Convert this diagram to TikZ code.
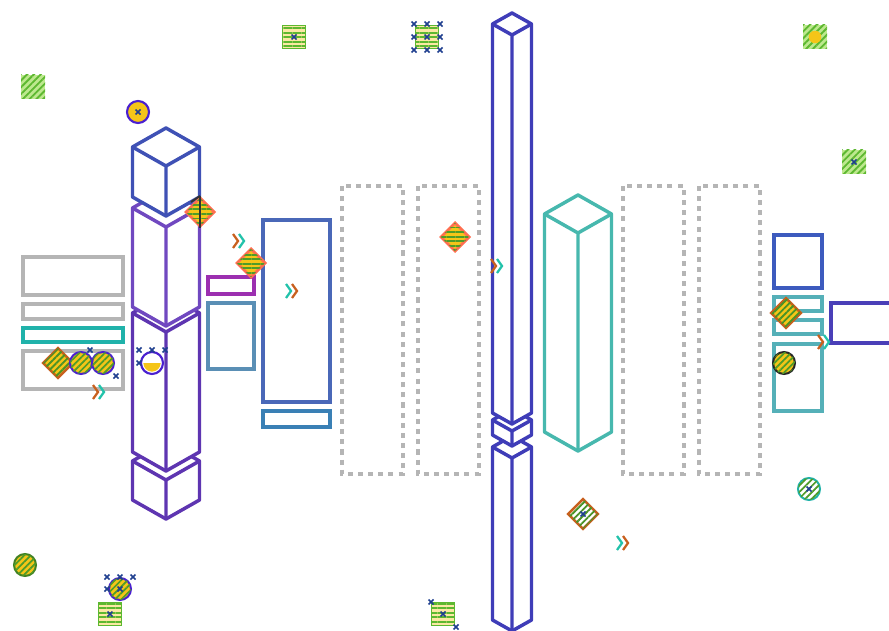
\documentclass[tikz,border=0pt]{standalone}
\usepackage{xcolor}
\usepackage{tikz}
\usetikzlibrary{shapes.geometric,patterns.meta}

\definecolor{cubeblue}{HTML}{3F51B5}
\definecolor{segpurple}{HTML}{7048C0}
\definecolor{segdeep}{HTML}{5E35B1}
\definecolor{towerind}{HTML}{3F3DB8}
\definecolor{towerteal}{HTML}{47B8AE}
\definecolor{boxgray}{HTML}{B5B5B5}
\definecolor{barteal}{HTML}{20B2AA}
\definecolor{tagpurple}{HTML}{9C2FB0}
\definecolor{steel}{HTML}{5A8FB5}
\definecolor{panelblue}{HTML}{4A68B8}
\definecolor{footblue}{HTML}{3A80B5}
\definecolor{sqblue}{HTML}{3D5BBE}
\definecolor{slotteal}{HTML}{55B0B8}
\definecolor{portind}{HTML}{4A3FB8}
\definecolor{diaorange}{HTML}{FF6F50}
\definecolor{chevorange}{HTML}{C8601E}
\definecolor{chevteal}{HTML}{22C2AA}
\definecolor{icongreen}{HTML}{5DB830}
\definecolor{lightgreen}{HTML}{BDE88E}
\definecolor{iconyellow}{HTML}{F5C518}
\definecolor{xnavy}{HTML}{1F3F8F}
\definecolor{ringind}{HTML}{4A20D0}

% isometric prism: cx, top y, half width, depth, height, colour
\newcommand{\prism}[6]{%
  \draw[prismline, draw=#6, fill=white] (#1,#2) -- ++(-#3,#4) -- ++(0,#5)
       -- ++(#3,#4) -- ++(#3,-#4) -- ++(0,-#5) -- cycle;
  \draw[prismline, draw=#6] (#1-#3,#2+#4) -- ++(#3,#4) -- ++(#3,-#4)
       (#1,#2+2*#4) -- ++(0,#5);
}
% double chevron: x, y, first colour, second colour
\newcommand{\chev}[4]{%
  \draw[chevline, #3] (#1-5,#2-7) -- (#1,#2) -- (#1-5,#2+7);
  \draw[chevline, #4] (#1+1,#2-7) -- (#1+6,#2) -- (#1+1,#2+7);
}
% small cross
\newcommand{\xm}[2]{%
  \draw[xline] (#1-2.5,#2-2.5) -- (#1+2.5,#2+2.5) (#1-2.5,#2+2.5) -- (#1+2.5,#2-2.5);
}

\begin{document}
\begin{tikzpicture}[x=0.75pt, y=-0.75pt,
  prismline/.style = {line width=2.6pt, line join=round},
  frame/.style     = {line width=3pt},
  dotbox/.style    = {draw=boxgray, line width=3.2pt, dash pattern=on 3.8pt off 3.8pt},
  chevline/.style  = {line width=1.7pt},
  xline/.style     = {draw=xnavy, line width=1.3pt},
  hatchdia/.style  = {diamond, draw=diaorange, line width=2pt, fill=iconyellow,
                      minimum size=22pt, inner sep=0pt,
                      postaction={pattern={Lines[angle=0,distance=3.4pt,line width=1.4pt]},
                                  pattern color=icongreen!85!black}},
  stripedia/.style = {diamond, draw=chevorange, line width=1.8pt, fill=iconyellow,
                      minimum size=23pt, inner sep=0pt,
                      postaction={pattern={Lines[angle=45,distance=3.4pt,line width=1.4pt]},
                                  pattern color=icongreen!80!black}},
  hatchcirc/.style = {circle, draw=black!85, line width=1.5pt, fill=iconyellow,
                      minimum size=16.5pt, inner sep=0pt,
                      postaction={pattern={Lines[angle=45,distance=3.4pt,line width=1.3pt]},
                                  pattern color=icongreen!85!black}},
  dotcirc/.style   = {circle, draw=ringind, line width=1.6pt, fill=iconyellow,
                      minimum size=16.5pt, inner sep=0pt},
  stripesq/.style  = {rectangle, draw=icongreen, line width=1pt, fill=iconyellow!40,
                      minimum size=17pt, inner sep=0pt,
                      postaction={pattern={Lines[angle=0,distance=3.4pt,line width=1.4pt]},
                                  pattern color=icongreen}},
  diagsq/.style    = {rectangle, fill=lightgreen, minimum size=18pt, inner sep=0pt,
                      postaction={pattern={Lines[angle=45,distance=3.6pt,line width=1.4pt]},
                                  pattern color=icongreen}}
]
\useasboundingbox (0,0) rectangle (889,631);

% , - Left stack , -
\prism{166}{442}{33.5}{19}{39}{segdeep}
\prism{166}{294}{33.5}{19}{139}{segdeep}
\prism{166}{189}{33.5}{19}{99}{segpurple}
\prism{166}{128}{33.5}{19}{50}{cubeblue}

% , - Tall tower , -
\prism{512}{436}{19.5}{11}{173}{towerind}
\prism{512}{409}{19.5}{11}{15}{towerind}
\prism{512}{13}{19.5}{11}{389}{towerind}

% , - Teal tower , -
\prism{578}{195}{33.5}{19}{218}{towerteal}

% , - Left bars , -
\draw[frame, boxgray]  (23,257) rectangle (123,295);
\draw[frame, boxgray]  (23,304) rectangle (123,319);
\draw[frame, barteal]  (23,328) rectangle (123,342);
\draw[frame, boxgray]  (23,351) rectangle (123,389);

% , - Middle panels , -
\draw[frame, tagpurple]  (208,277) rectangle (254,294);
\draw[frame, steel]      (208,303) rectangle (254,369);
\draw[frame, panelblue]  (263,220) rectangle (330,402);
\draw[frame, footblue]   (263,411) rectangle (330,427);

% , - Dotted lanes , -
\draw[dotbox] (342,186) rectangle (403,474);
\draw[dotbox] (418,186) rectangle (479,474);
\draw[dotbox] (623,186) rectangle (684,474);
\draw[dotbox] (699,186) rectangle (760,474);

% , - Right blocks , -
\draw[frame, sqblue]    (774,235) rectangle (822,288);
\draw[frame, slotteal]  (774,297) rectangle (822,311);
\draw[frame, slotteal]  (774,320) rectangle (822,334);
\draw[frame, slotteal]  (774,344) rectangle (822,411);
\draw[frame, portind]   (831,303) rectangle (895,343);

% , - Markers , -
\node[diagsq]    (m1)  at (33,87)   {};
\node[dotcirc]   (m2)  at (138,112) {};
\xm{138}{112}
\node[stripesq]  (m3)  at (294,37)  {};
\xm{294}{37}
\node[stripesq]  (m4)  at (427,37)  {};
\foreach \i in {414,427,440}
  \foreach \j in {24,37,50} {\xm{\i}{\j}}
\node[diagsq]    (m5)  at (815,37)  {};
\node[circle, fill=iconyellow, minimum size=9pt] (m5c) at (815,37) {};
\node[diagsq]    (m6)  at (854,162) {};
\xm{854}{162}
\node[hatchdia]  (m7)  at (200,212) {};
\draw[line width=1.4pt, black!80] (m7.south) -- (m7.north) (m7.north) -- ++(-9,6);
\chev{238}{241}{chevorange}{chevteal}
\node[hatchdia]  (m8)  at (251,263) {};
\chev{291}{291}{chevteal}{chevorange}
\node[hatchdia]  (m9)  at (455,237) {};
\chev{496}{266}{chevorange}{chevteal}

\node[stripedia] (m10) at (58,363)  {};
\node[hatchcirc, draw=ringind] (m11) at (81,363)  {};
\node[hatchcirc, draw=ringind] (m12) at (103,363) {};
\xm{90}{350} \xm{116}{376}
\chev{98}{392}{chevorange}{chevteal}
\node[dotcirc, fill=white] (m13) at (152,363) {};
\fill[iconyellow] ([xshift=-6.5pt]m13.center) arc[start angle=180, end angle=360, radius=6.5pt] -- cycle;
\xm{139}{350} \xm{152}{350} \xm{165}{350} \xm{139}{363}

\node[stripedia] (m14) at (786,313) {};
\node[hatchcirc] (m15) at (784,363) {};
\chev{823}{342}{chevorange}{chevteal}

\node[hatchcirc, draw=barteal, fill=white] (m16) at (809,489) {};
\xm{809}{489}
\node[stripedia, fill=white] (m17) at (583,514) {};
\xm{583}{514}
\chev{622}{543}{chevteal}{chevorange}

\node[hatchcirc, draw=icongreen!70!black] (m18) at (25,565) {};
\node[hatchcirc, draw=ringind] (m19) at (120,589) {};
\foreach \i in {107,120,133} {\xm{\i}{577}}
\xm{107}{589} \xm{120}{589}
\node[stripesq]  (m20) at (110,614) {};
\xm{110}{614}
\node[stripesq]  (m21) at (443,614) {};
\xm{443}{614} \xm{431}{602} \xm{456}{627}

\end{tikzpicture}
\end{document}
